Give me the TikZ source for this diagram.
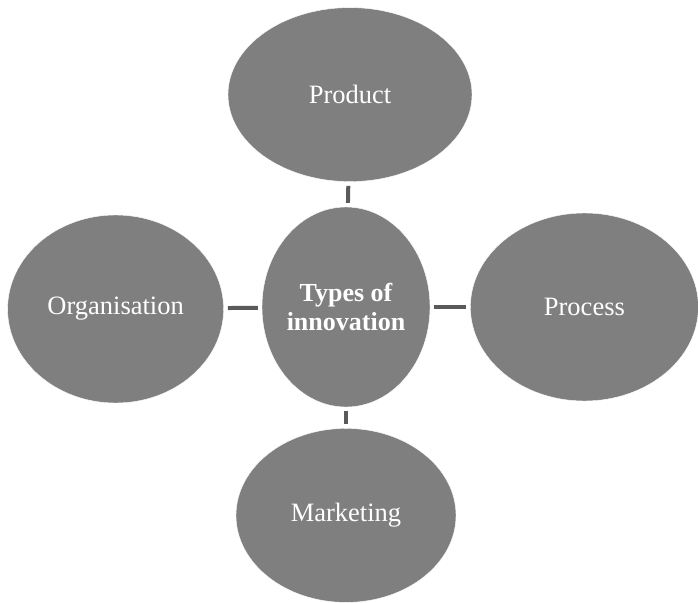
\documentclass[tikz,border=0pt]{standalone}
\usepackage{fontspec}
\setmainfont{Liberation Serif}
\usetikzlibrary{shapes.geometric,positioning}
\definecolor{blobgray}{HTML}{7F7F7F}
\definecolor{linkgray}{HTML}{5A5A5A}
\tikzset{
  basic/.style = {ellipse, fill=blobgray, draw=white, thin, text=white, inner sep=0pt,
  align=center, font=\fontsize{26.5}{28}\selectfont},
  hub/.style = {basic, minimum width=168pt, minimum height=200pt,
  font=\fontsize{26}{28.5}\selectfont\bfseries},
  leaf/.style = {basic},
  link/.style = {draw=linkgray, line width=4pt, shorten <=4pt, shorten >=4pt}
}

\begin{document}
\begin{tikzpicture}[x=1pt,y=-1pt]
\useasboundingbox (0,0) rectangle (698,602);
\node [hub] (start) at (346,307) {Types of\\innovation};
% the four kinds round the centre
\node [leaf, minimum width=244pt, minimum height=174pt, above=25pt of start, xshift=4pt] (prod) {Product};
\node [leaf, minimum width=216pt, minimum height=188pt, left=38pt of start, yshift=-2pt] (orga) {Organisation};
\node [leaf, minimum width=228pt, minimum height=188pt, right=40pt of start] (proc) {Process};
\node [leaf, minimum width=220pt, minimum height=174pt, below=21pt of start] (mark) {Marketing};
% short links to the centre
\draw [link] (prod) -- (start);
\draw [link] (orga) -- (start);
\draw [link] (proc) -- (start);
\draw [link] (mark) -- (start);
\end{tikzpicture}
\end{document}
